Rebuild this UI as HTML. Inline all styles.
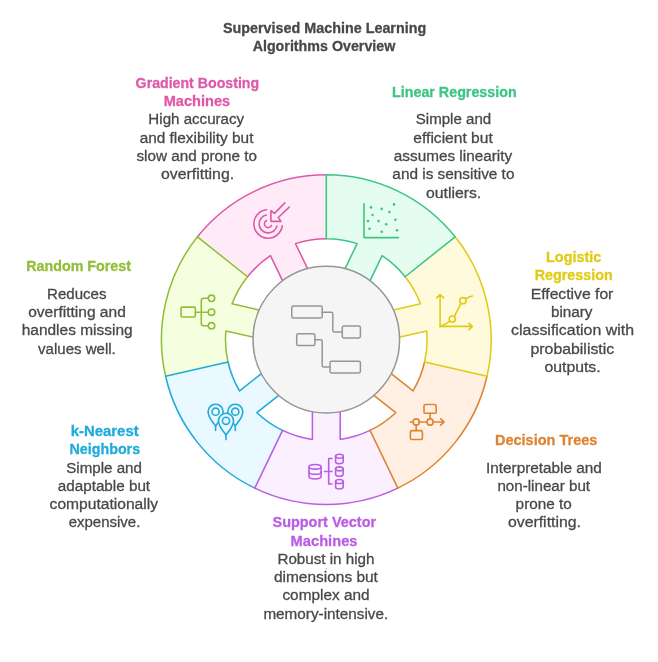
<!DOCTYPE html>
<html lang="en"><head><meta charset="utf-8"><title>Supervised Machine Learning Algorithms Overview</title>
<style>html,body{margin:0;padding:0;background:#fff}body{width:658px;height:662px;overflow:hidden}svg{display:block}text{font-family:"Liberation Sans",sans-serif;font-size:15.5px}</style></head><body>
<svg width="658" height="662" viewBox="0 0 658 662">
<rect width="658" height="662" fill="#ffffff"/>
<g stroke-width="1.55" stroke-linejoin="round" stroke-linecap="round">
<path d="M197.42 236.82 A164.85 164.85 0 0 1 326.30 174.75 L326.30 238.80 A100.80 100.80 0 0 0 295.51 243.62 L309.37 272.40 L284.32 284.46 L270.46 255.68 A100.80 100.80 0 0 0 247.49 276.75 Z" fill="#FFEBF7" stroke="none"/>
<path d="M165.58 376.28 A164.85 164.85 0 0 1 197.42 236.82 L247.49 276.75 A100.80 100.80 0 0 0 232.06 303.83 L263.20 310.94 L257.02 338.04 L225.87 330.94 A100.80 100.80 0 0 0 228.03 362.03 Z" fill="#F5FFE0" stroke="none"/>
<path d="M254.77 488.12 A164.85 164.85 0 0 1 165.58 376.28 L228.03 362.03 A100.80 100.80 0 0 0 239.58 390.98 L264.55 371.06 L281.89 392.80 L256.91 412.71 A100.80 100.80 0 0 0 282.56 430.42 Z" fill="#E9F9FF" stroke="none"/>
<path d="M397.83 488.12 A164.85 164.85 0 0 1 254.77 488.12 L282.56 430.42 A100.80 100.80 0 0 0 312.40 439.44 L312.40 407.49 L340.20 407.49 L340.20 439.44 A100.80 100.80 0 0 0 370.04 430.42 Z" fill="#FAF0FF" stroke="none"/>
<path d="M487.02 376.28 A164.85 164.85 0 0 1 397.83 488.12 L370.04 430.42 A100.80 100.80 0 0 0 395.69 412.71 L370.71 392.80 L388.05 371.06 L413.02 390.98 A100.80 100.80 0 0 0 424.57 362.03 Z" fill="#FFF0E3" stroke="none"/>
<path d="M455.18 236.82 A164.85 164.85 0 0 1 487.02 376.28 L424.57 362.03 A100.80 100.80 0 0 0 426.73 330.94 L395.58 338.04 L389.40 310.94 L420.54 303.83 A100.80 100.80 0 0 0 405.11 276.75 Z" fill="#FFFADB" stroke="none"/>
<path d="M326.30 174.75 A164.85 164.85 0 0 1 455.18 236.82 L405.11 276.75 A100.80 100.80 0 0 0 382.14 255.68 L368.28 284.46 L343.23 272.40 L357.09 243.62 A100.80 100.80 0 0 0 326.30 238.80 Z" fill="#E4FDF0" stroke="none"/>
<path d="M197.42 236.82 A164.85 164.85 0 0 1 326.30 174.75 M326.30 238.80 A100.80 100.80 0 0 0 295.51 243.62 L309.37 272.40 L284.32 284.46 L270.46 255.68 A100.80 100.80 0 0 0 247.49 276.75" fill="none" stroke="#DE58A9"/>
<path d="M165.58 376.28 A164.85 164.85 0 0 1 197.42 236.82 L247.49 276.75 A100.80 100.80 0 0 0 232.06 303.83 L263.20 310.94 L257.02 338.04 L225.87 330.94 A100.80 100.80 0 0 0 228.03 362.03" fill="none" stroke="#92BD39"/>
<path d="M254.77 488.12 A164.85 164.85 0 0 1 165.58 376.28 L228.03 362.03 A100.80 100.80 0 0 0 239.58 390.98 L264.55 371.06 L281.89 392.80 L256.91 412.71 A100.80 100.80 0 0 0 282.56 430.42" fill="none" stroke="#1EABDA"/>
<path d="M397.83 488.12 A164.85 164.85 0 0 1 254.77 488.12 L282.56 430.42 A100.80 100.80 0 0 0 312.40 439.44 L312.40 407.49 L340.20 407.49 L340.20 439.44 A100.80 100.80 0 0 0 370.04 430.42" fill="none" stroke="#BA5DE5"/>
<path d="M487.02 376.28 A164.85 164.85 0 0 1 397.83 488.12 L370.04 430.42 A100.80 100.80 0 0 0 395.69 412.71 L370.71 392.80 L388.05 371.06 L413.02 390.98 A100.80 100.80 0 0 0 424.57 362.03" fill="none" stroke="#DE8431"/>
<path d="M455.18 236.82 A164.85 164.85 0 0 1 487.02 376.28 L424.57 362.03 A100.80 100.80 0 0 0 426.73 330.94 L395.58 338.04 L389.40 310.94 L420.54 303.83 A100.80 100.80 0 0 0 405.11 276.75" fill="none" stroke="#E0CB15"/>
<path d="M326.30 174.75 A164.85 164.85 0 0 1 455.18 236.82 L405.11 276.75 A100.80 100.80 0 0 0 382.14 255.68 L368.28 284.46 L343.23 272.40 L357.09 243.62 A100.80 100.80 0 0 0 326.30 238.80 Z" fill="none" stroke="#3CC583"/>
<circle cx="326.30" cy="339.60" r="73.30" fill="#F5F5F5" stroke="#969696" stroke-width="1.5"/>
</g>
<g fill="none" stroke="#3CC583" stroke-width="1.60" stroke-linecap="round" stroke-linejoin="round">
<path d="M364.0 203.8 V237.6 H398.5"/>
</g>
<g fill="#3CC583"><circle cx="371.0" cy="207.4" r="1.3"/><circle cx="381.7" cy="208.9" r="1.3"/><circle cx="394.0" cy="204.4" r="1.3"/><circle cx="389.4" cy="212.1" r="1.3"/><circle cx="372.6" cy="215.0" r="1.3"/><circle cx="368.0" cy="221.1" r="1.3"/><circle cx="378.6" cy="221.1" r="1.3"/><circle cx="395.4" cy="219.7" r="1.3"/><circle cx="386.2" cy="224.3" r="1.3"/><circle cx="369.5" cy="228.8" r="1.3"/><circle cx="381.7" cy="231.7" r="1.3"/><circle cx="397.0" cy="230.3" r="1.3"/></g>
<g fill="none" stroke="#E0CB15" stroke-width="1.60" stroke-linecap="round" stroke-linejoin="round">
<path d="M436.6 297.8 L440.1 294.6 L443.7 297.8 M440.1 294.8 V326.4 H472.2 M468.9 323.4 L472.4 326.4 L468.9 329.6"/>
<path d="M440.1 326.4 Q446 324.5 449.7 321.0 M454.3 316.6 L460.9 303.4 M465.6 298.9 Q469 296.5 472.3 296.0"/>
<circle cx="452.3" cy="319.1" r="3.1"/><circle cx="462.9" cy="300.7" r="3.1"/>
</g>
<g fill="none" stroke="#DE8431" stroke-width="1.60" stroke-linecap="round" stroke-linejoin="round">
<rect x="424.0" y="404.5" width="12.2" height="8.8" rx="1.4"/>
<rect x="410.4" y="430.6" width="12.0" height="8.9" rx="1.4"/>
<path d="M410.2 422 H413.1 M419.3 422 H427.0 M433.2 422 H444.0 M440.7 418.9 L444.1 422 L440.7 425.2 M430.1 413.3 V418.9 M416.2 425.1 V430.6"/>
<circle cx="416.2" cy="422" r="3.1"/><circle cx="430.1" cy="422" r="3.1"/>
</g>
<g fill="none" stroke="#BA5DE5" stroke-width="1.60" stroke-linecap="round" stroke-linejoin="round">
<ellipse cx="315.05" cy="466.80" rx="6.05" ry="2.35"/><path d="M309.00 466.80 V476.60 A6.05 2.35 0 0 0 321.10 476.60 V466.80"/><path d="M309.00 471.90 A6.05 2.35 0 0 0 321.10 471.90"/>
<path d="M324.5 471.5 H332.0 M332.0 458.5 H328.7 V484.0 H332.0"/>
<ellipse cx="339.40" cy="456.25" rx="3.80" ry="2.00"/><path d="M335.60 456.25 V461.70 A3.80 2.00 0 0 0 343.20 461.70 V456.25"/>
<ellipse cx="339.40" cy="468.85" rx="3.80" ry="2.00"/><path d="M335.60 468.85 V474.30 A3.80 2.00 0 0 0 343.20 474.30 V468.85"/>
<ellipse cx="339.40" cy="481.55" rx="3.80" ry="2.00"/><path d="M335.60 481.55 V487.00 A3.80 2.00 0 0 0 343.20 487.00 V481.55"/>
</g>
<g fill="#E9F9FF" stroke="#1EABDA" stroke-width="1.60" stroke-linecap="round" stroke-linejoin="round">
<path d="M215.60 425.70 V430.50"/>
<path d="M215.60 426.10 C212.97 421.78 208.10 417.75 208.10 411.70 A7.50 7.50 0 0 1 223.10 411.70 C223.10 417.75 218.22 421.78 215.60 426.10 Z"/>
<circle cx="215.60" cy="411.70" r="3.6"/>
<path d="M235.30 425.70 V430.50"/>
<path d="M235.30 426.10 C232.68 421.78 227.80 417.75 227.80 411.70 A7.50 7.50 0 0 1 242.80 411.70 C242.80 417.75 237.93 421.78 235.30 426.10 Z"/>
<circle cx="235.30" cy="411.70" r="3.6"/>
<path d="M226.00 434.80 V439.60"/>
<path d="M226.00 435.20 C223.38 430.88 218.50 426.85 218.50 420.80 A7.50 7.50 0 0 1 233.50 420.80 C233.50 426.85 228.62 430.88 226.00 435.20 Z"/>
<circle cx="226.00" cy="420.80" r="3.6"/>
</g>
<g fill="none" stroke="#92BD39" stroke-width="1.60" stroke-linecap="round" stroke-linejoin="round">
<rect x="181.0" y="307.1" width="14.4" height="9.9" rx="1.5"/>
<path d="M195.4 312.2 H208.3 M208.3 298.3 H203.6 Q201.3 298.3 201.3 300.6 V323.5 Q201.3 325.8 203.6 325.8 H208.3"/>
<circle cx="211.5" cy="298.3" r="3.2"/>
<circle cx="211.5" cy="312.2" r="3.2"/>
<circle cx="211.5" cy="325.8" r="3.2"/>
</g>
<g fill="none" stroke="#DE58A9" stroke-width="1.60" stroke-linecap="round" stroke-linejoin="round">
<path d="M266.66 209.68 A14.30 14.30 0 1 0 282.33 225.72"/>
<path d="M266.31 215.09 A9.00 9.00 0 1 0 276.88 226.08"/>
<path d="M266.62 220.47 A3.75 3.75 0 1 0 271.58 225.43"/>
<path d="M284.9 202.9 L274.4 213.4 L270.9 210.7 V221.4 H281.0 L278.3 217.5 L289.2 207.2"/>
</g>
<g fill="none" stroke="#969696" stroke-width="1.50" stroke-linecap="round" stroke-linejoin="round">
<rect x="291.8" y="306.1" width="30.4" height="11.9" rx="1.6"/>
<rect x="342.3" y="326.1" width="18.1" height="11.8" rx="1.6"/>
<rect x="296.7" y="333.8" width="18.2" height="11.8" rx="1.6"/>
<rect x="330.0" y="361.2" width="30.4" height="11.7" rx="1.6"/>
<path d="M322.2 312.2 H331.3 Q332.8 312.2 332.8 313.7 V330.5 Q332.8 332.0 334.3 332.0 H342.3"/>
<path d="M314.9 339.8 H320.7 Q322.2 339.8 322.2 341.3 V365.4 Q322.2 366.9 323.7 366.9 H330.0"/>
</g>
<circle cx="326.3" cy="568.6" r="0.55" fill="#BA5DE5"/>
<g style="will-change:opacity;opacity:0.999">
<text x="222.89" y="33.10" textLength="203.37" lengthAdjust="spacingAndGlyphs" fill="#484848" stroke="#484848" stroke-width="0.3" font-weight="700">Supervised Machine Learning</text>
<text x="252.64" y="51.30" textLength="142.73" lengthAdjust="spacingAndGlyphs" fill="#484848" stroke="#484848" stroke-width="0.3" font-weight="700">Algorithms Overview</text>
<text x="135.62" y="87.75" textLength="123.53" lengthAdjust="spacingAndGlyphs" fill="#DE58A9" stroke="#DE58A9" stroke-width="0.3" font-weight="700">Gradient Boosting</text>
<text x="163.72" y="106.08" textLength="66.47" lengthAdjust="spacingAndGlyphs" fill="#DE58A9" stroke="#DE58A9" stroke-width="0.3" font-weight="700">Machines</text>
<text x="148.36" y="124.41" textLength="95.77" lengthAdjust="spacingAndGlyphs" fill="#484848" stroke="#484848" stroke-width="0.3">High accuracy</text>
<text x="139.65" y="142.74" textLength="113.77" lengthAdjust="spacingAndGlyphs" fill="#484848" stroke="#484848" stroke-width="0.3">and flexibility but</text>
<text x="136.48" y="161.07" textLength="120.47" lengthAdjust="spacingAndGlyphs" fill="#484848" stroke="#484848" stroke-width="0.3">slow and prone to</text>
<text x="161.03" y="179.40" textLength="73.11" lengthAdjust="spacingAndGlyphs" fill="#484848" stroke="#484848" stroke-width="0.3">overfitting.</text>
<text x="392.04" y="96.91" textLength="124.64" lengthAdjust="spacingAndGlyphs" fill="#3CC583" stroke="#3CC583" stroke-width="0.3" font-weight="700">Linear Regression</text>
<text x="415.72" y="124.41" textLength="75.46" lengthAdjust="spacingAndGlyphs" fill="#484848" stroke="#484848" stroke-width="0.3">Simple and</text>
<text x="413.34" y="142.74" textLength="79.47" lengthAdjust="spacingAndGlyphs" fill="#484848" stroke="#484848" stroke-width="0.3">efficient but</text>
<text x="393.85" y="161.07" textLength="118.28" lengthAdjust="spacingAndGlyphs" fill="#484848" stroke="#484848" stroke-width="0.3">assumes linearity</text>
<text x="392.35" y="179.40" textLength="122.10" lengthAdjust="spacingAndGlyphs" fill="#484848" stroke="#484848" stroke-width="0.3">and is sensitive to</text>
<text x="425.94" y="197.73" textLength="55.31" lengthAdjust="spacingAndGlyphs" fill="#484848" stroke="#484848" stroke-width="0.3">outliers.</text>
<text x="546.04" y="261.85" textLength="55.29" lengthAdjust="spacingAndGlyphs" fill="#E0CB15" stroke="#E0CB15" stroke-width="0.3" font-weight="700">Logistic</text>
<text x="534.64" y="280.20" textLength="78.15" lengthAdjust="spacingAndGlyphs" fill="#E0CB15" stroke="#E0CB15" stroke-width="0.3" font-weight="700">Regression</text>
<text x="530.72" y="298.55" textLength="82.64" lengthAdjust="spacingAndGlyphs" fill="#484848" stroke="#484848" stroke-width="0.3">Effective for</text>
<text x="550.92" y="316.90" textLength="41.51" lengthAdjust="spacingAndGlyphs" fill="#484848" stroke="#484848" stroke-width="0.3">binary</text>
<text x="511.12" y="335.25" textLength="122.91" lengthAdjust="spacingAndGlyphs" fill="#484848" stroke="#484848" stroke-width="0.3">classification with</text>
<text x="530.48" y="353.60" textLength="83.74" lengthAdjust="spacingAndGlyphs" fill="#484848" stroke="#484848" stroke-width="0.3">probabilistic</text>
<text x="544.44" y="371.95" textLength="56.21" lengthAdjust="spacingAndGlyphs" fill="#484848" stroke="#484848" stroke-width="0.3">outputs.</text>
<text x="494.94" y="445.13" textLength="102.45" lengthAdjust="spacingAndGlyphs" fill="#DE8431" stroke="#DE8431" stroke-width="0.3" font-weight="700">Decision Trees</text>
<text x="485.99" y="472.54" textLength="115.90" lengthAdjust="spacingAndGlyphs" fill="#484848" stroke="#484848" stroke-width="0.3">Interpretable and</text>
<text x="497.39" y="490.81" textLength="92.72" lengthAdjust="spacingAndGlyphs" fill="#484848" stroke="#484848" stroke-width="0.3">non-linear but</text>
<text x="515.61" y="509.08" textLength="56.23" lengthAdjust="spacingAndGlyphs" fill="#484848" stroke="#484848" stroke-width="0.3">prone to</text>
<text x="507.94" y="527.35" textLength="73.01" lengthAdjust="spacingAndGlyphs" fill="#484848" stroke="#484848" stroke-width="0.3">overfitting.</text>
<text x="272.49" y="527.40" textLength="103.63" lengthAdjust="spacingAndGlyphs" fill="#BA5DE5" stroke="#BA5DE5" stroke-width="0.3" font-weight="700">Support Vector</text>
<text x="290.62" y="545.67" textLength="66.88" lengthAdjust="spacingAndGlyphs" fill="#BA5DE5" stroke="#BA5DE5" stroke-width="0.3" font-weight="700">Machines</text>
<text x="277.45" y="563.94" textLength="97.03" lengthAdjust="spacingAndGlyphs" fill="#484848" stroke="#484848" stroke-width="0.3">Robust in high</text>
<text x="273.95" y="582.21" textLength="103.96" lengthAdjust="spacingAndGlyphs" fill="#484848" stroke="#484848" stroke-width="0.3">dimensions but</text>
<text x="282.45" y="600.48" textLength="87.14" lengthAdjust="spacingAndGlyphs" fill="#484848" stroke="#484848" stroke-width="0.3">complex and</text>
<text x="263.39" y="618.75" textLength="124.81" lengthAdjust="spacingAndGlyphs" fill="#484848" stroke="#484848" stroke-width="0.3">memory-intensive.</text>
<text x="70.66" y="436.00" textLength="68.02" lengthAdjust="spacingAndGlyphs" fill="#1EABDA" stroke="#1EABDA" stroke-width="0.3" font-weight="700">k-Nearest</text>
<text x="69.55" y="454.27" textLength="70.54" lengthAdjust="spacingAndGlyphs" fill="#1EABDA" stroke="#1EABDA" stroke-width="0.3" font-weight="700">Neighbors</text>
<text x="66.21" y="472.54" textLength="75.76" lengthAdjust="spacingAndGlyphs" fill="#484848" stroke="#484848" stroke-width="0.3">Simple and</text>
<text x="57.75" y="490.81" textLength="92.36" lengthAdjust="spacingAndGlyphs" fill="#484848" stroke="#484848" stroke-width="0.3">adaptable but</text>
<text x="49.64" y="509.08" textLength="108.39" lengthAdjust="spacingAndGlyphs" fill="#484848" stroke="#484848" stroke-width="0.3">computationally</text>
<text x="68.66" y="527.35" textLength="71.71" lengthAdjust="spacingAndGlyphs" fill="#484848" stroke="#484848" stroke-width="0.3">expensive.</text>
<text x="26.14" y="271.03" textLength="104.93" lengthAdjust="spacingAndGlyphs" fill="#92BD39" stroke="#92BD39" stroke-width="0.3" font-weight="700">Random Forest</text>
<text x="47.07" y="298.55" textLength="59.38" lengthAdjust="spacingAndGlyphs" fill="#484848" stroke="#484848" stroke-width="0.3">Reduces</text>
<text x="28.15" y="316.90" textLength="97.65" lengthAdjust="spacingAndGlyphs" fill="#484848" stroke="#484848" stroke-width="0.3">overfitting and</text>
<text x="21.73" y="335.25" textLength="110.87" lengthAdjust="spacingAndGlyphs" fill="#484848" stroke="#484848" stroke-width="0.3">handles missing</text>
<text x="38.05" y="353.60" textLength="77.72" lengthAdjust="spacingAndGlyphs" fill="#484848" stroke="#484848" stroke-width="0.3">values well.</text>
</g>
</svg></body></html>
